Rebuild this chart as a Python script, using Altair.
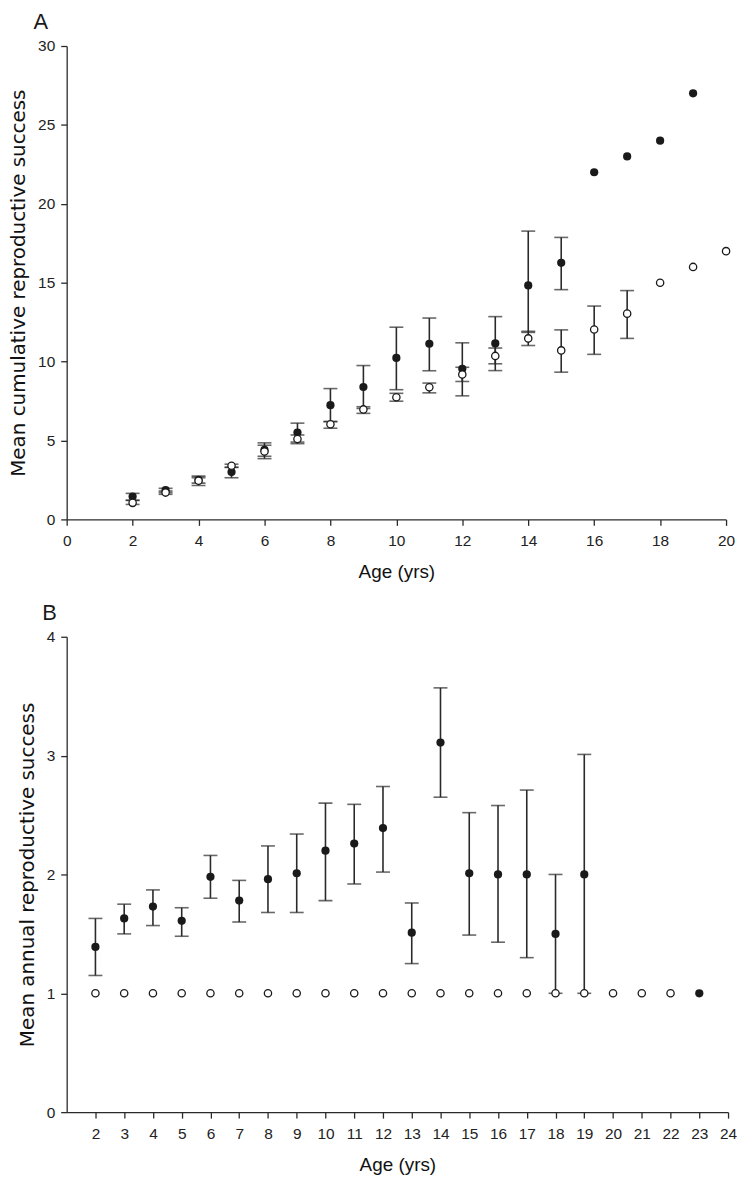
import altair as alt
import pandas as pd

# ---------------- Panel A: cumulative reproductive success ----------------
a_ages_filled = [2, 3, 4, 5, 6, 7, 8, 9, 10, 11, 12, 13, 14, 15, 16, 17, 18, 19]
a_mean_filled = [1.45, 1.85, 2.5, 3.0, 4.4, 5.5, 7.24, 8.39, 10.23, 11.13, 9.54, 11.15, 14.83, 16.26, 22, 23, 24, 27]
a_lo_filled = [1.22, 1.70, 2.3, 2.64, 4.0, 4.9, 6.2, 7.03, 8.22, 9.42, 7.83, 9.43, 11.85, 14.56, None, None, None, None]
a_hi_filled = [1.65, 1.97, 2.65, 3.3, 4.7, 6.1, 8.29, 9.75, 12.18, 12.76, 11.19, 12.85, 18.27, 17.87, None, None, None, None]

a_ages_open = [2, 3, 4, 5, 6, 7, 8, 9, 10, 11, 12, 13, 14, 15, 16, 17, 18, 19, 20]
a_mean_open = [1.05, 1.7, 2.45, 3.4, 4.3, 5.1, 6.03, 6.97, 7.74, 8.37, 9.19, 10.36, 11.47, 10.71, 12.03, 13.04, 15, 16, 17]
a_lo_open = [0.95, 1.59, 2.15, 3.3, 3.85, 4.8, 5.78, 6.72, 7.49, 8.02, 8.74, 9.86, 11.02, 9.33, 10.46, 11.47, None, None, None]
a_hi_open = [1.2, 1.8, 2.74, 3.5, 4.85, 5.35, 6.2, 7.14, 7.99, 8.64, 9.64, 10.86, 11.92, 12.01, 13.52, 14.5, None, None, None]

# ---------------- Panel B: annual reproductive success ----------------
b_ages_filled = [2, 3, 4, 5, 6, 7, 8, 9, 10, 11, 12, 13, 14, 15, 16, 17, 18, 19, 23]
b_mean_filled = [1.39, 1.63, 1.73, 1.61, 1.98, 1.78, 1.96, 2.01, 2.20, 2.26, 2.39, 1.51, 3.11, 2.01, 2.0, 2.0, 1.5, 2.0, 1.0]
b_lo_filled = [1.15, 1.50, 1.57, 1.48, 1.80, 1.60, 1.68, 1.68, 1.78, 1.92, 2.02, 1.25, 2.65, 1.49, 1.43, 1.30, 1.0, 1.0, None]
b_hi_filled = [1.63, 1.75, 1.87, 1.72, 2.16, 1.95, 2.24, 2.34, 2.60, 2.59, 2.74, 1.76, 3.57, 2.52, 2.58, 2.71, 2.0, 3.01, None]

b_ages_open = [2, 3, 4, 5, 6, 7, 8, 9, 10, 11, 12, 13, 14, 15, 16, 17, 18, 19, 20, 21, 22]
b_mean_open = [1.0] * 21

a_x_ticks = list(range(0, 21, 2))
a_y_ticks = list(range(0, 31, 5))
b_x_ticks = list(range(2, 25))
b_y_ticks = [0, 1, 2, 3, 4]

FONT = "Liberation Sans"
YFONT = "DejaVu Sans"
INK = "#1a1a1a"
LINE = "#2a2a2a"


def frame(ages, mean, lo, hi):
    return pd.DataFrame({"age": ages, "mean": mean, "lo": lo, "hi": hi})


def panel(letter, df_f, df_o, xdom, xticks, ydom, yticks, ytitle, w, h):
    xs = alt.Scale(domain=xdom, nice=False, zero=False)
    ys = alt.Scale(domain=ydom, nice=False)
    xax = alt.Axis(values=xticks, title="Age (yrs)", format="d", labelOverlap=False)
    yax = alt.Axis(values=yticks, title=ytitle, format="d", labelOverlap=False)

    def X(field):
        return alt.X(field, type="quantitative", scale=xs, axis=xax)

    def Y(field):
        return alt.Y(field, type="quantitative", scale=ys, axis=yax)

    bars = pd.concat([df_f, df_o]).dropna(subset=["lo", "hi"])
    base_bars = alt.Chart(bars)
    rule = base_bars.mark_rule(color=LINE, strokeWidth=1.6).encode(
        x=X("age"), y=Y("lo"), y2="hi:Q"
    )
    cap_lo = base_bars.mark_tick(orient="horizontal", size=14, thickness=1.6, color=LINE).encode(
        x=X("age"), y=Y("lo")
    )
    cap_hi = base_bars.mark_tick(orient="horizontal", size=14, thickness=1.6, color=LINE).encode(
        x=X("age"), y=Y("hi")
    )
    pts_f = alt.Chart(df_f).mark_point(shape="circle", filled=True, size=68, color=INK, opacity=1).encode(
        x=X("age"), y=Y("mean")
    )
    pts_o = alt.Chart(df_o).mark_point(
        shape="circle", filled=True, fill="white", stroke=INK, strokeWidth=1.3, size=54, opacity=1
    ).encode(x=X("age"), y=Y("mean"))

    return alt.layer(rule, cap_lo, cap_hi, pts_f, pts_o).properties(
        width=w,
        height=h,
        title=alt.TitleParams(
            letter, anchor="start", frame="bounds", dx=25, fontSize=22,
            fontWeight="normal", font=FONT, color=INK, offset=5,
        ),
    )


chart_a = panel(
    "A",
    frame(a_ages_filled, a_mean_filled, a_lo_filled, a_hi_filled),
    frame(a_ages_open, a_mean_open, a_lo_open, a_hi_open),
    [0, 20], a_x_ticks, [0, 30], a_y_ticks,
    "Mean cumulative reproductive success", 663, 476,
)
chart_b = panel(
    "B",
    frame(b_ages_filled, b_mean_filled, b_lo_filled, b_hi_filled),
    frame(b_ages_open, b_mean_open, [None] * len(b_ages_open), [None] * len(b_ages_open)),
    [1, 24], b_x_ticks, [0, 4], b_y_ticks,
    "Mean annual reproductive success", 665, 478,
)

chart = (
    alt.vconcat(chart_a, chart_b, spacing=20)
    .properties(padding={"left": 0, "top": 0, "right": 0, "bottom": 0})
    .configure_view(strokeWidth=0)
    .configure_axis(
        grid=False,
        domainColor=LINE,
        domainWidth=1.3,
        tickColor=LINE,
        tickWidth=1.3,
        tickSize=6,
        labelFont=FONT,
        labelFontSize=15.5,
        labelColor="#222222",
        titleFont=FONT,
        titleFontSize=19,
        titleFontWeight="normal",
        titleColor="#111111",
    )
    .configure_axisY(titlePadding=9, labelPadding=6, titleFont=YFONT, titleFontSize=20)
    .configure_axisX(titlePadding=14, labelPadding=8, labelFlush=False)
)

chart.save("out.html", embed_options={"renderer": "svg", "actions": False})
